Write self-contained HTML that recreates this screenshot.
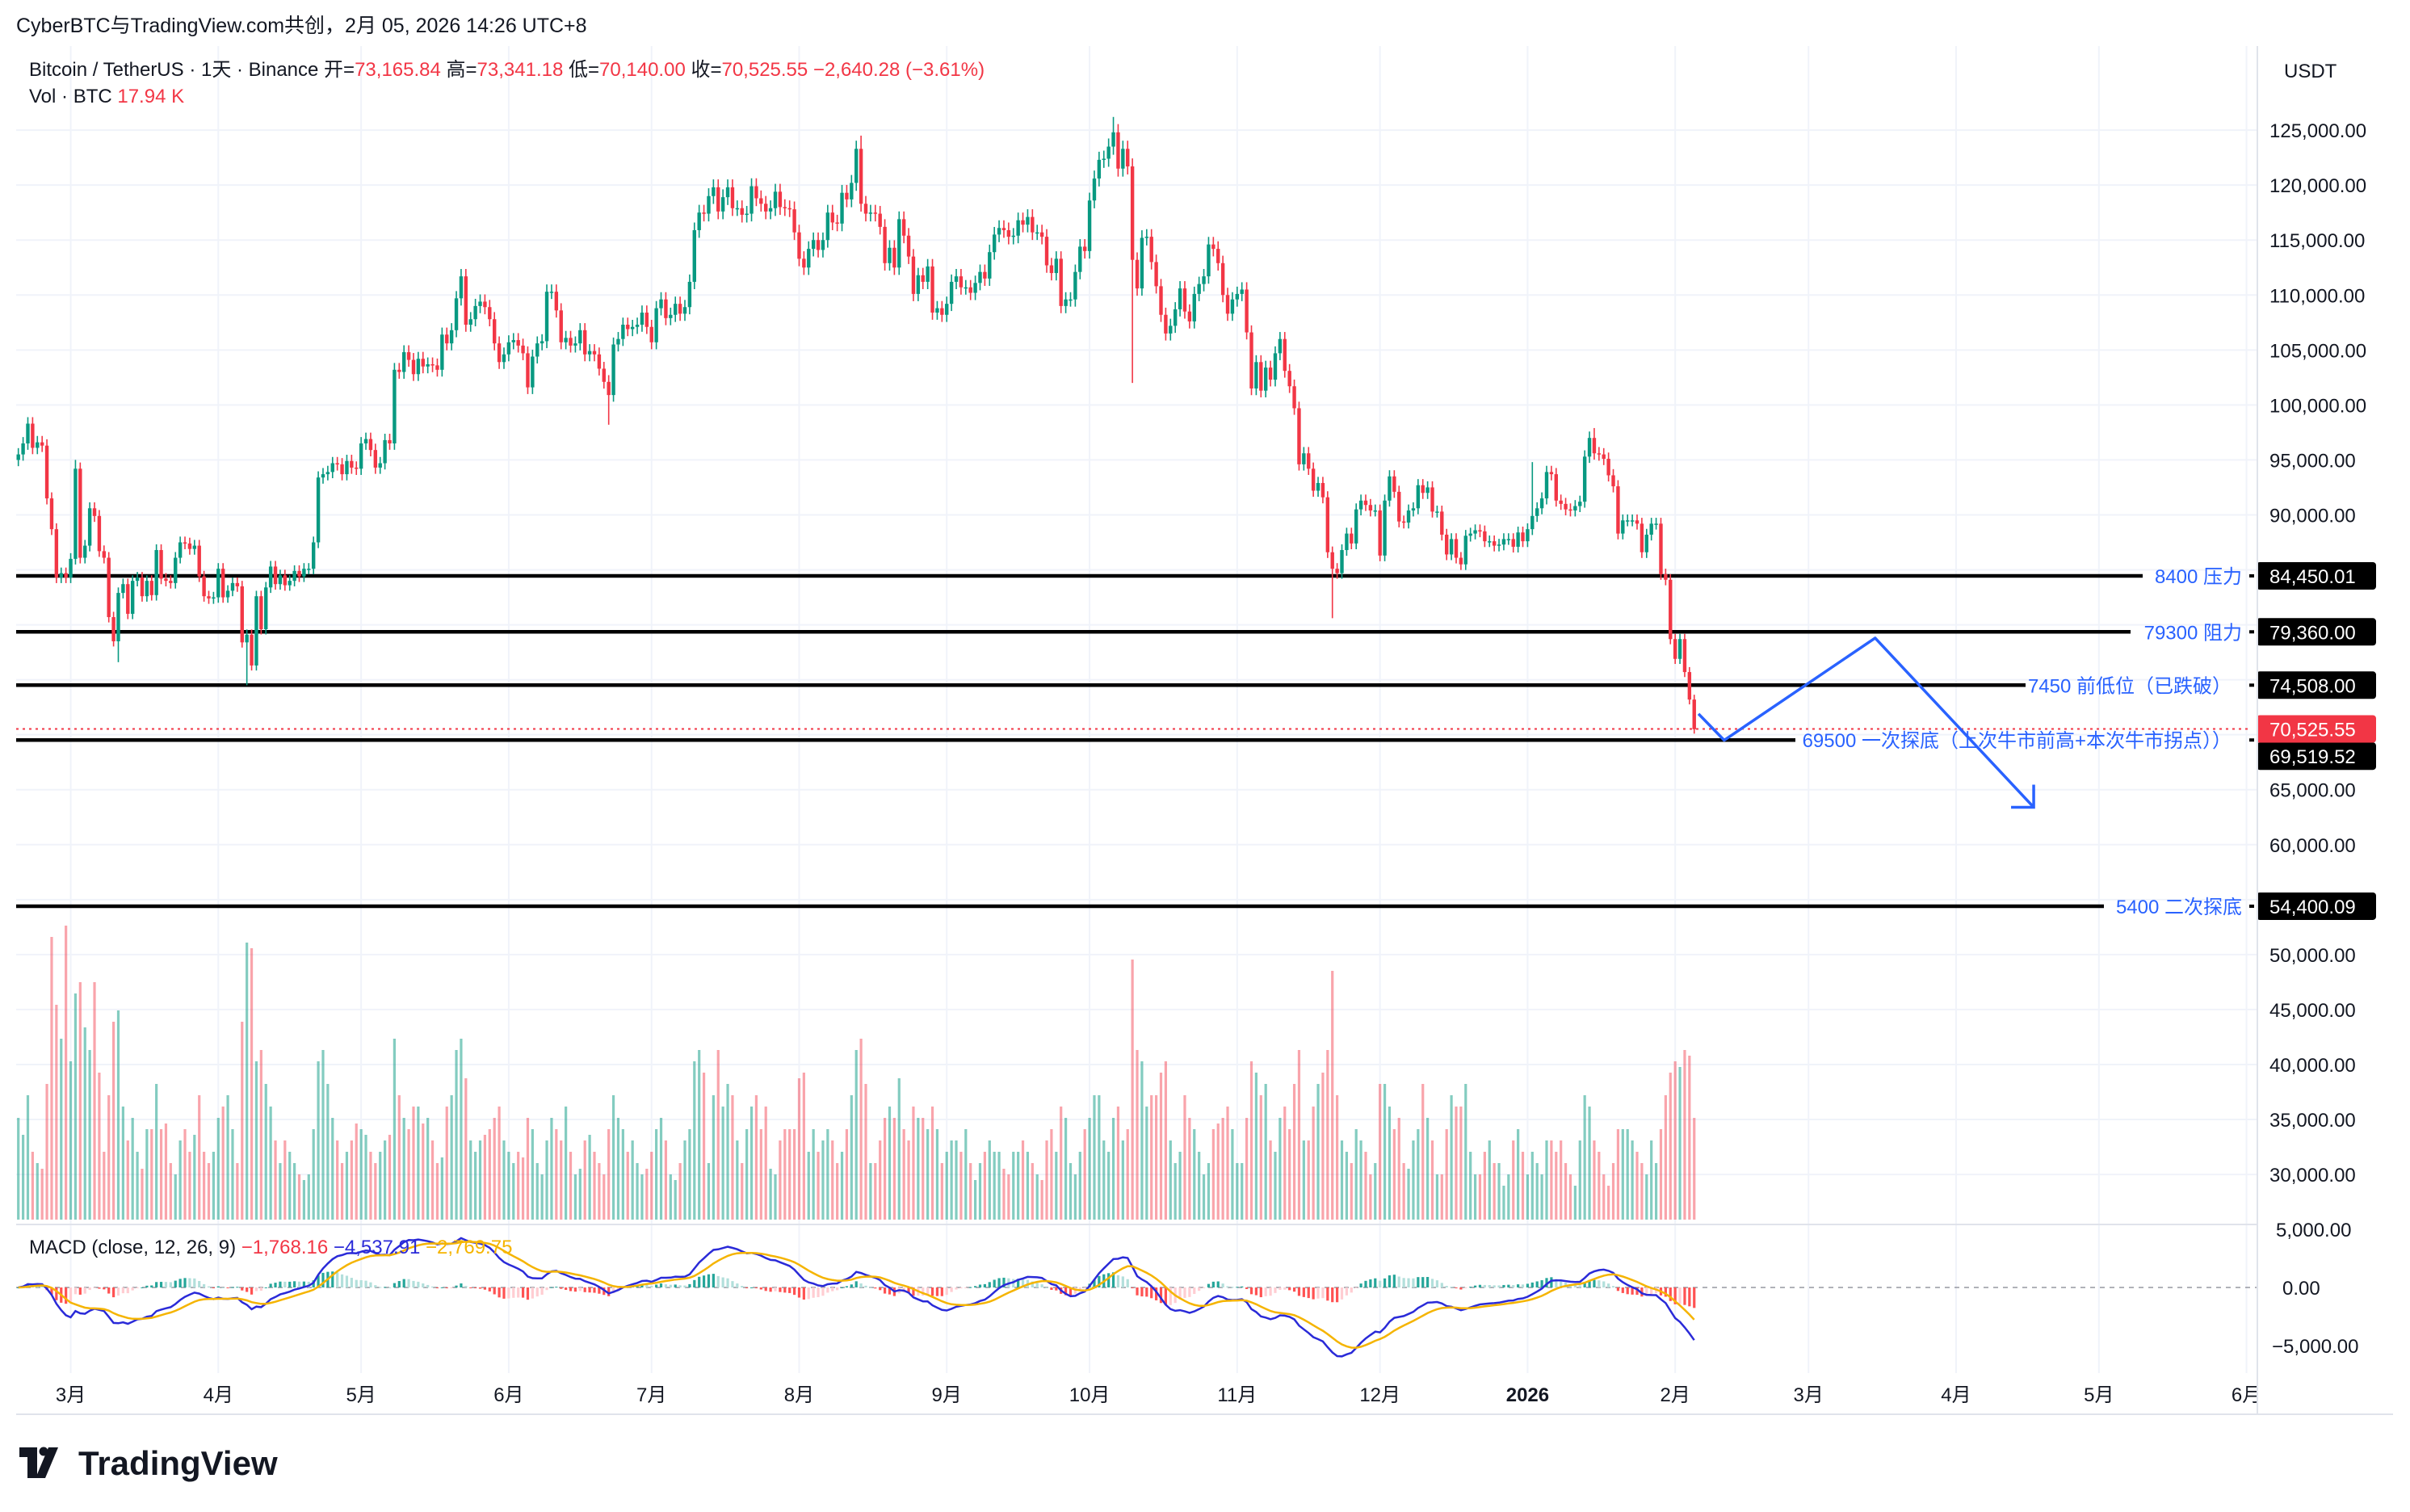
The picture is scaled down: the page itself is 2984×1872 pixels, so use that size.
<!DOCTYPE html>
<html><head><meta charset="utf-8">
<style>
html,body{margin:0;padding:0;background:#fff;}
svg{display:block;font-family:"Liberation Sans","Noto Sans CJK SC",sans-serif;}
</style></head>
<body>
<svg id="chart" width="2984" height="1872" viewBox="0 0 2984 1872">
  <rect x="0" y="0" width="2984" height="1872" fill="#ffffff"/>
  <g id="grid"></g>
  <g id="vol"></g>
  <g id="levels"></g>
  <g id="candles"></g>
  <g id="macd"></g>
  <g id="drawing"></g>
  <g id="axis"></g>
  <g id="taxis"></g>
  <line x1="2795" y1="57" x2="2795" y2="1751" stroke="#e0e3eb" stroke-width="2"/>
  <line x1="20" y1="1751" x2="2963" y2="1751" stroke="#e0e3eb" stroke-width="2"/>
  <line x1="20" y1="1516" x2="2795" y2="1516" stroke="#e0e3eb" stroke-width="2"/>
  <text x="20" y="40" font-size="25" fill="#131722">CyberBTC与TradingView.com共创，2月 05, 2026 14:26 UTC+8</text>
  <text x="36" y="94" font-size="24" fill="#131722">Bitcoin / TetherUS · 1天 · Binance  开=<tspan fill="#F23645">73,165.84</tspan>  高=<tspan fill="#F23645">73,341.18</tspan>  低=<tspan fill="#F23645">70,140.00</tspan>  收=<tspan fill="#F23645">70,525.55  −2,640.28 (−3.61%)</tspan></text>
  <text x="36" y="127" font-size="24" fill="#131722">Vol · BTC  <tspan fill="#F23645">17.94 K</tspan></text>
  <text x="36" y="1552" font-size="24" fill="#131722">MACD (close, 12, 26, 9)  <tspan fill="#F23645">−1,768.16</tspan>  <tspan fill="#2a2ad8">−4,537.91</tspan>  <tspan fill="#f5b400">−2,769.75</tspan></text>
  <text x="2828" y="96" font-size="24" fill="#131722">USDT</text>
  <g>
    <path d="M24 1792 h22 v38 h-12 v-26 h-10 z" fill="#131722"/>
    <circle cx="54" cy="1797" r="5.5" fill="#131722"/>
    <path d="M60 1792 h12 l-16 38 h-12 z" fill="#131722"/>
    <text x="97" y="1826" font-size="42" font-weight="bold" fill="#131722">TradingView</text>
  </g>
</svg>
<script>
// ---- data (prices in K USDT, daily, 2025-02-18 .. 2026-02-05) ----
const closes = [
95.5,96.5,98.3,96.1,96.6,96.3,91.5,88.7,84.3,84.7,84.3,
86.0,94.2,86.1,87.2,90.6,89.9,86.7,86.1,80.7,78.5,82.9,83.7,81.0,84.0,84.3,82.6,84.0,82.7,86.8,84.2,84.0,83.8,86.1,87.5,87.4,86.9,87.2,84.4,82.6,82.4,82.5,
85.1,82.5,83.1,83.8,83.5,78.4,79.1,76.3,82.6,79.6,83.4,85.3,83.7,84.5,83.6,84.0,84.9,84.4,85.1,85.1,87.5,93.4,93.7,93.9,94.7,94.6,93.7,94.9,94.3,94.2,
96.5,96.9,95.9,94.3,94.7,96.8,96.5,103.2,103.0,104.8,104.1,102.8,104.2,103.5,103.7,103.6,103.2,106.4,105.6,106.8,109.7,111.7,107.3,107.8,109.0,109.4,108.9,107.8,105.6,103.9,104.6,
105.7,105.9,105.4,104.7,101.6,104.4,105.6,105.8,110.3,110.3,108.6,105.7,106.1,105.4,105.6,106.8,104.6,104.9,104.6,103.3,102.1,100.9,105.5,106.0,107.3,106.9,107.1,107.3,108.4,107.1,
105.7,108.8,109.6,107.9,108.2,109.2,108.3,108.9,111.2,115.9,117.5,117.4,119.0,119.8,117.6,118.9,119.8,117.9,117.9,117.3,117.4,119.9,118.8,118.3,117.6,117.9,119.4,118.0,117.9,117.8,115.7,
113.3,112.5,114.2,115.0,114.1,115.0,117.5,116.6,116.5,119.3,118.7,120.2,123.3,118.3,117.4,117.5,117.4,116.2,112.9,114.3,112.5,116.9,115.4,113.5,110.1,111.8,111.2,112.6,108.4,108.8,108.2,
109.2,111.2,111.7,110.7,110.7,110.2,111.1,112.1,111.5,113.9,115.5,116.1,115.9,115.3,115.4,116.8,116.4,117.1,115.7,115.7,115.3,112.7,112.0,113.3,109.0,109.6,109.6,112.1,114.4,114.0,
118.6,120.6,122.3,122.4,123.5,124.8,121.5,123.3,121.7,113.2,110.6,115.2,115.3,113.0,110.8,108.2,106.5,107.2,108.7,110.6,108.5,107.6,110.1,111.0,111.7,114.6,114.2,112.9,110.0,108.3,109.6,
110.1,110.5,106.6,101.5,103.9,101.3,103.4,102.3,104.7,106.0,103.1,101.7,99.7,94.6,95.6,94.2,92.2,92.9,91.6,86.6,85.1,84.7,86.8,88.3,87.4,90.5,91.3,90.9,90.4,90.4,
86.3,91.3,93.5,92.1,89.4,89.3,90.4,90.6,92.7,92.0,92.5,90.3,90.3,88.2,86.4,87.8,86.1,85.5,88.1,88.3,88.6,88.5,87.6,87.6,87.2,87.3,87.8,87.8,87.1,88.4,87.6,
88.7,89.9,90.6,91.5,93.9,93.7,91.3,91.0,90.5,90.4,90.8,91.2,95.3,97.0,95.6,95.5,95.1,93.6,92.6,88.3,89.5,89.5,89.5,89.2,86.6,88.2,89.2,89.2,84.6,84.1,78.7,
76.9,78.7,75.7,73.2,70.5
];
const firstOpen = 95.0;
const volumes = [
18,15,22,12,10,9,24,50,38,32,52,
28,40,42,34,30,42,26,12,22,35,37,20,14,18,12,9,16,16,24,16,17,10,8,14,16,12,15,22,12,10,12,
18,20,22,16,10,35,49,48,28,30,24,20,14,10,14,12,10,8,7,8,16,28,30,24,18,14,10,12,14,17,
16,15,12,10,12,14,15,32,22,18,16,20,20,17,18,14,10,11,20,22,30,32,25,14,12,14,15,16,18,20,14,
12,10,12,11,18,16,10,8,14,18,16,14,20,12,8,9,14,15,12,10,8,16,22,18,16,12,14,10,8,9,
12,16,18,14,8,7,10,14,16,28,30,26,10,22,30,20,24,22,14,10,16,20,22,16,20,9,8,14,16,16,16,
25,26,12,16,12,14,16,14,10,12,16,22,30,32,24,10,10,14,18,20,18,25,16,14,20,18,18,16,20,16,10,
12,14,14,12,16,10,7,10,12,14,12,12,9,8,12,12,14,12,10,8,7,14,16,12,20,18,10,8,12,16,
18,22,22,14,12,18,20,14,16,46,30,28,20,22,22,26,28,14,10,12,22,18,16,12,8,10,16,17,18,20,16,
10,10,18,28,26,22,24,14,12,18,20,16,24,30,14,14,20,24,26,30,44,22,14,12,10,16,14,12,8,10,
24,24,20,16,18,10,9,14,16,24,18,14,8,8,16,22,20,20,24,12,8,8,12,14,10,10,6,8,14,16,12,
8,12,10,8,14,14,12,14,10,8,6,14,22,20,14,12,8,6,10,16,16,16,14,12,10,8,14,10,16,22,26,
28,27,30,29,18
];
const wickHighIdx = [12, 177, 230, 318, 331];
const wickHighVal = [95.0, 124.5, 126.2, 94.8, 97.9];
const wickLowIdx  = [21, 48, 124, 234, 276, 352];
const wickLowVal  = [76.6, 74.5, 98.2, 102.0, 80.6, 70.1];
const priceTicks = [125,120,115,110,105,100,95,90,65,60,50,45,40,35,30];
const monthLabels = ["3月","4月","5月","6月","7月","8月","9月","10月","11月","12月","2026","2月","3月","4月","5月","6月"];
const monthIdx    = [11,42,72,103,133,164,195,225,256,286,317,348,376,407,437,468];
const levelPrices = [84450.01, 79360.00, 74508.00, 69519.52, 54400.09];
const levelNotes  = ["8400 压力","79300 阻力","7450 前低位（已跌破）","69500 一次探底（上次牛市前高+本次牛市拐点））","5400 二次探底"];
const levelEnds   = [2653, 2638, 2508, 2223, 2605];
const pathIdx   = [352.9, 358.3, 390.0, 423.3];
const pathPrice = [71.9, 69.5, 78.8, 63.4];
const lastClose = 70525.55;

// ---- scales ----
const X0 = 22.7, DX = 5.895;
const xS = i => X0 + i*DX;
const yS = p => 713 + (84.45 - p)*13.61;          // p in K
const volBase = 1510, volK = 7.0;
const macdZero = 1594, macdK = 72/5000;
const yM = v => macdZero - v*macdK;

const NS = "http://www.w3.org/2000/svg";
function mk(tag, attrs, parent){
  const e = document.createElementNS(NS, tag);
  for (const k in attrs) e.setAttribute(k, attrs[k]);
  parent.appendChild(e);
  return e;
}
const UP = "#089981", DN = "#F23645";

// grid
const grid = document.getElementById('grid');
for (let p = 125; p >= 30; p -= 5) {
  const ln = mk('line', {x1:20, x2:2795, y1:yS(p), y2:yS(p), stroke:'#f0f3fa', 'stroke-width':2}, grid);
  
  
}
monthIdx.forEach(i => {
  if (xS(i) > 2793) return;
  const ln = mk('line', {x1:xS(i), x2:xS(i), y1:57, y2:1700, stroke:'#f0f3fa', 'stroke-width':2}, grid);
  
  
});

// candles + volume
const cg = document.getElementById('candles'), vg = document.getElementById('vol');
closes.forEach((c, i) => {
  const o = i === 0 ? firstOpen : closes[i-1];
  const up = c >= o;
  let hi = Math.max(o, c) * 1.006, lo = Math.min(o, c) * 0.994;
  const hk = wickHighIdx.indexOf(i); if (hk >= 0) hi = wickHighVal[hk];
  const lk = wickLowIdx.indexOf(i); if (lk >= 0) lo = wickLowVal[lk];
  const x = xS(i), col = up ? UP : DN;
  const w = mk('line', {x1:x, x2:x, y1:yS(hi), y2:yS(lo), stroke:col, 'stroke-width':1.6}, cg);
  
  
  const yt = yS(Math.max(o, c)), yb = yS(Math.min(o, c));
  const b = mk('rect', {x:x-2.2, y:yt, width:4.4, height:Math.max(1.5, yb-yt), fill:col}, cg);
  
  
  const v = volumes[i];
  const vb = mk('rect', {x:x-1.6, y:volBase - v*volK, width:3.2, height:v*volK, fill: up ? 'rgba(8,153,129,0.5)' : 'rgba(242,54,69,0.45)'}, vg);
  
  
});

// MACD
const mg = document.getElementById('macd');
function ema(arr, n){ const k = 2/(n+1); const out=[]; let e = arr[0]; arr.forEach((v,i)=>{ e = i===0 ? v : v*k + e*(1-k); out.push(e); }); return out; }
const cl = closes.map(c => c*1000);
const e12 = ema(cl, 12), e26 = ema(cl, 26);
const macdLine = e12.map((v,i) => v - e26[i]);
const sig = ema(macdLine, 9);
const zl = mk('line', {x1:20, x2:2795, y1:macdZero, y2:macdZero, stroke:'#9598a1', 'stroke-width':1.5, 'stroke-dasharray':'6 6'}, mg);


macdLine.forEach((m, i) => {
  const h = m - sig[i], ph = i ? macdLine[i-1] - sig[i-1] : 0;
  const col = h >= 0 ? (h >= ph ? '#26A69A' : '#B2DFDB') : (h < ph ? '#FF5252' : '#FFCDD2');
  const y1 = yM(Math.max(h,0)), y2 = yM(Math.min(h,0));
  const r = mk('rect', {x:xS(i)-1.6, y:y1, width:3.2, height:Math.max(1, y2-y1), fill:col}, mg);
  
  
});
const pl = (arr) => arr.map((v,i) => xS(i).toFixed(1)+','+yM(v).toFixed(1)).join(' ');
const ml = mk('polyline', {points:pl(macdLine), fill:'none', stroke:'#2a2ad8', 'stroke-width':2.5}, mg);


const sl = mk('polyline', {points:pl(sig), fill:'none', stroke:'#f5b400', 'stroke-width':2.5}, mg);



// levels
const lg = document.getElementById('levels');
const dl = mk('line', {x1:20, x2:2785, y1:yS(lastClose/1000), y2:yS(lastClose/1000), stroke:'#F23645', 'stroke-width':2, 'stroke-dasharray':'3 5'}, lg);


levelPrices.forEach((p, k) => {
  const y = yS(p/1000);
  const ln = mk('line', {x1:20, x2:levelEnds[k], y1:y, y2:y, stroke:'#000', 'stroke-width':4.5}, lg);
  
  
  const t = mk('text', {x: (k===2||k===3) ? 2763 : 2776, y:y+9, 'font-size':24, fill:'#2962FF', 'text-anchor':'end'}, lg);
  t.textContent = levelNotes[k];
  
  
  const tk = mk('rect', {x:2785, y:y-2, width:6, height:4, fill:'#000'}, lg);
  
  
});

// drawing path
const dg = document.getElementById('drawing');
const pts = pathIdx.map((v,i) => [xS(v), yS(pathPrice[i])]);
const pp = mk('polyline', {points:pts.map(p=>p.join(',')).join(' '), fill:'none', stroke:'#2962FF', 'stroke-width':3.5, 'stroke-linejoin':'round'}, dg);


const [ax, ay] = pts[3];
const ah = mk('polyline', {points:`${ax},${ay-28} ${ax},${ay} ${ax-28},${ay}`, fill:'none', stroke:'#2962FF', 'stroke-width':3.5}, dg);



// price axis
const ag = document.getElementById('axis');
priceTicks.forEach(p => {
  const t = mk('text', {x:2810, y:yS(p)+9, 'font-size':24, fill:'#131722'}, ag);
  t.textContent = (p*1000).toLocaleString('en-US') + '.00';
  
  
});
function box(price, fill, label, nm, dy){
  const y = yS(price/1000) + dy;
  const r = mk('rect', {x:2794, y:y-17, width:148, height:34, rx:4, fill:fill}, ag);
  
  
  const t = mk('text', {x:2810, y:y+9, 'font-size':24, fill:'#fff'}, ag);
  t.textContent = label;
  
  
}
levelPrices.forEach(p => { if (p !== 69519.52) box(p, '#000', p.toLocaleString('en-US',{minimumFractionDigits:2}), 'level-price', 0); });
box(69519.52, '#000', '69,519.52', 'level-price', 20);
box(lastClose, '#F23645', '70,525.55', 'last-price', 0);
// macd axis
[[5000,'5,000.00'],[0,'0.00'],[-5000,'−5,000.00']].forEach(([v,s]) => {
  const t = mk('text', {x: v===0 ? 2826 : (v>0?2818:2813), y:yM(v)+9, 'font-size':24, fill:'#131722'}, ag);
  t.textContent = s;
  
  
});

// time axis
const tg = document.getElementById('taxis');
monthLabels.forEach((m, k) => {
  const t = mk('text', {x:xS(monthIdx[k]), y:1735, 'font-size':24, fill:'#131722', 'text-anchor':'middle', 'font-weight': m==='2026' ? 'bold' : 'normal'}, tg);
  t.textContent = m;
  
  
});
</script>
</body></html>
